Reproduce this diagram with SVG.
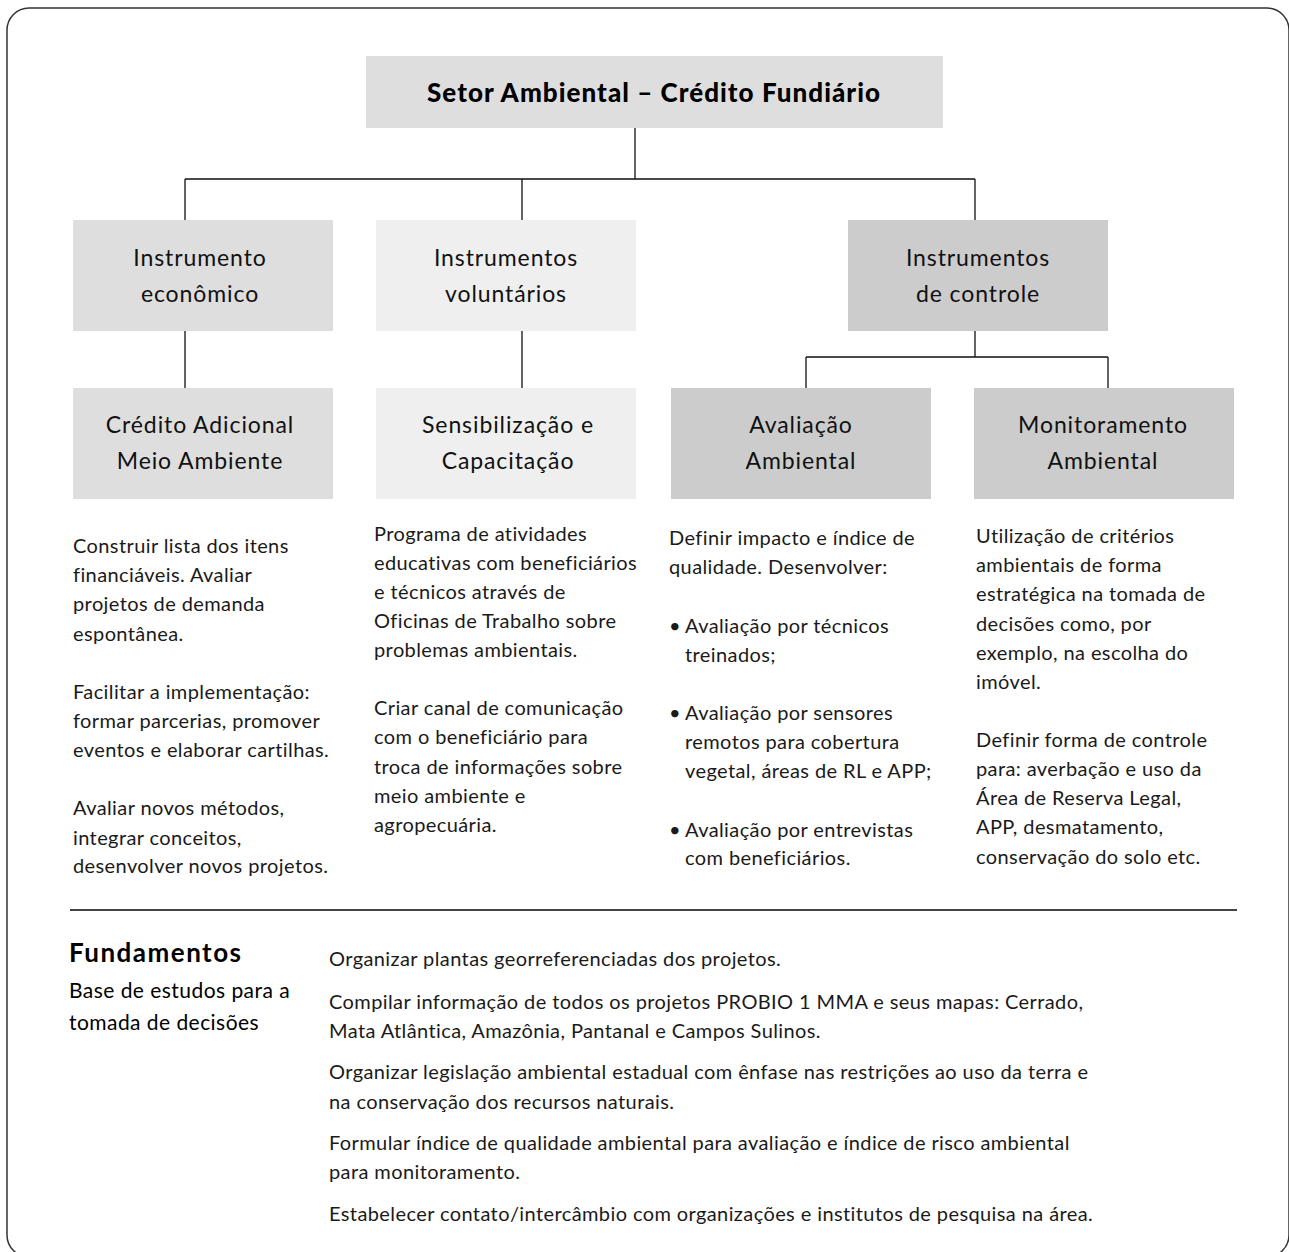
<svg xmlns="http://www.w3.org/2000/svg" width="1289" height="1252" viewBox="0 0 1289 1252">
<style>
text{font-family:Lato,"Liberation Sans",sans-serif;fill:#1a1a1a}
.title{font-size:26px;font-weight:900;fill:#000}
.lbl{font-size:23px;letter-spacing:0.9px;text-anchor:middle;fill:#111}
.body{font-size:20px;letter-spacing:0.4px}
.conn{stroke:#111;stroke-width:1.3;fill:none}
.b1{fill:#dedede}.b2{fill:#efefef}.b3{fill:#cccccc}
.fund{font-size:26px;font-weight:bold;fill:#000}
.sub{font-size:21px;letter-spacing:0.45px;fill:#000}
</style>
<rect x="7" y="8" width="1282" height="1249" rx="22" ry="22" fill="#fff" stroke="#333" stroke-width="1.5"/>
<g id="connectors">
<path class="conn" d="M635 128V179M185 179H975M185 179V220M522 179V220M975 179V220"/>
<path class="conn" d="M185 331V388M522 331V388M975 331V357M806 357H1108M806 357V388M1108 357V388"/>
</g>
<g id="title"><rect class="b1" x="366" y="56" width="577" height="72"/><text class="title" x="427" y="102" textLength="453">Setor Ambiental – Crédito Fundiário</text></g>
<g id="instr-econ"><rect class="b1" x="73" y="220" width="260" height="111"/><text class="lbl" x="200" y="266">Instrumento</text><text class="lbl" x="200" y="302">econômico</text></g>
<g id="instr-vol"><rect class="b2" x="376" y="220" width="260" height="111"/><text class="lbl" x="506" y="266">Instrumentos</text><text class="lbl" x="506" y="302">voluntários</text></g>
<g id="instr-ctrl"><rect class="b3" x="848" y="220" width="260" height="111"/><text class="lbl" x="978" y="266">Instrumentos</text><text class="lbl" x="978" y="302">de controle</text></g>
<g id="credito"><rect class="b1" x="73" y="388" width="260" height="111"/><text class="lbl" x="200" y="433">Crédito Adicional</text><text class="lbl" x="200" y="469">Meio Ambiente</text></g>
<g id="sensib"><rect class="b2" x="376" y="388" width="260" height="111"/><text class="lbl" x="508" y="433">Sensibilização e</text><text class="lbl" x="508" y="469">Capacitação</text></g>
<g id="avaliacao"><rect class="b3" x="671" y="388" width="260" height="111"/><text class="lbl" x="801" y="433">Avaliação</text><text class="lbl" x="801" y="469">Ambiental</text></g>
<g id="monit"><rect class="b3" x="974" y="388" width="260" height="111"/><text class="lbl" x="1103" y="433">Monitoramento</text><text class="lbl" x="1103" y="469">Ambiental</text></g>
<g id="text-credito">
<text class="body" x="73" y="553">Construir lista dos itens</text>
<text class="body" x="73" y="582">financiáveis. Avaliar</text>
<text class="body" x="73" y="611">projetos de demanda</text>
<text class="body" x="73" y="641">espontânea.</text>
<text class="body" x="73" y="699">Facilitar a implementação:</text>
<text class="body" x="73" y="728">formar parcerias, promover</text>
<text class="body" x="73" y="757">eventos e elaborar cartilhas.</text>
<text class="body" x="73" y="815">Avaliar novos métodos,</text>
<text class="body" x="73" y="845">integrar conceitos,</text>
<text class="body" x="73" y="873">desenvolver novos projetos.</text>
</g>
<g id="text-sensib">
<text class="body" x="374" y="541">Programa de atividades</text>
<text class="body" x="374" y="570">educativas com beneficiários</text>
<text class="body" x="374" y="599">e técnicos através de</text>
<text class="body" x="374" y="628">Oficinas de Trabalho sobre</text>
<text class="body" x="374" y="657">problemas ambientais.</text>
<text class="body" x="374" y="715">Criar canal de comunicação</text>
<text class="body" x="374" y="744">com o beneficiário para</text>
<text class="body" x="374" y="774">troca de informações sobre</text>
<text class="body" x="374" y="803">meio ambiente e</text>
<text class="body" x="374" y="832">agropecuária.</text>
</g>
<g id="text-avaliacao">
<text class="body" x="669" y="545">Definir impacto e índice de</text>
<text class="body" x="669" y="574">qualidade. Desenvolver:</text>
<text class="body" y="633"><tspan x="669">•</tspan><tspan x="685">Avaliação por técnicos</tspan></text>
<text class="body" x="685" y="662">treinados;</text>
<text class="body" y="720"><tspan x="669">•</tspan><tspan x="685">Avaliação por sensores</tspan></text>
<text class="body" x="685" y="749">remotos para cobertura</text>
<text class="body" x="685" y="778">vegetal, áreas de RL e APP;</text>
<text class="body" y="837"><tspan x="669">•</tspan><tspan x="685">Avaliação por entrevistas</tspan></text>
<text class="body" x="685" y="865">com beneficiários.</text>
</g>
<g id="text-monit">
<text class="body" x="976" y="543">Utilização de critérios</text>
<text class="body" x="976" y="572">ambientais de forma</text>
<text class="body" x="976" y="601">estratégica na tomada de</text>
<text class="body" x="976" y="631">decisões como, por</text>
<text class="body" x="976" y="660">exemplo, na escolha do</text>
<text class="body" x="976" y="689">imóvel.</text>
<text class="body" x="976" y="747">Definir forma de controle</text>
<text class="body" x="976" y="776">para: averbação e uso da</text>
<text class="body" x="976" y="805">Área de Reserva Legal,</text>
<text class="body" x="976" y="834">APP, desmatamento,</text>
<text class="body" x="976" y="864">conservação do solo etc.</text>
</g>
<line x1="70" y1="910" x2="1237" y2="910" stroke="#444" stroke-width="1.8"/>
<g id="fundamentos">
<text class="fund" x="69" y="962" textLength="172">Fundamentos</text>
<text class="sub" x="69" y="998">Base de estudos para a</text>
<text class="sub" x="69" y="1030">tomada de decisões</text>
<text class="body" x="329" y="966">Organizar plantas georreferenciadas dos projetos.</text>
<text class="body" x="329" y="1009">Compilar informação de todos os projetos PROBIO 1 MMA e seus mapas: Cerrado,</text>
<text class="body" x="329" y="1038">Mata Atlântica, Amazônia, Pantanal e Campos Sulinos.</text>
<text class="body" x="329" y="1079">Organizar legislação ambiental estadual com ênfase nas restrições ao uso da terra e</text>
<text class="body" x="329" y="1109">na conservação dos recursos naturais.</text>
<text class="body" x="329" y="1150">Formular índice de qualidade ambiental para avaliação e índice de risco ambiental</text>
<text class="body" x="329" y="1179">para monitoramento.</text>
<text class="body" x="329" y="1221">Estabelecer contato/intercâmbio com organizações e institutos de pesquisa na área.</text>
</g>
</svg>
